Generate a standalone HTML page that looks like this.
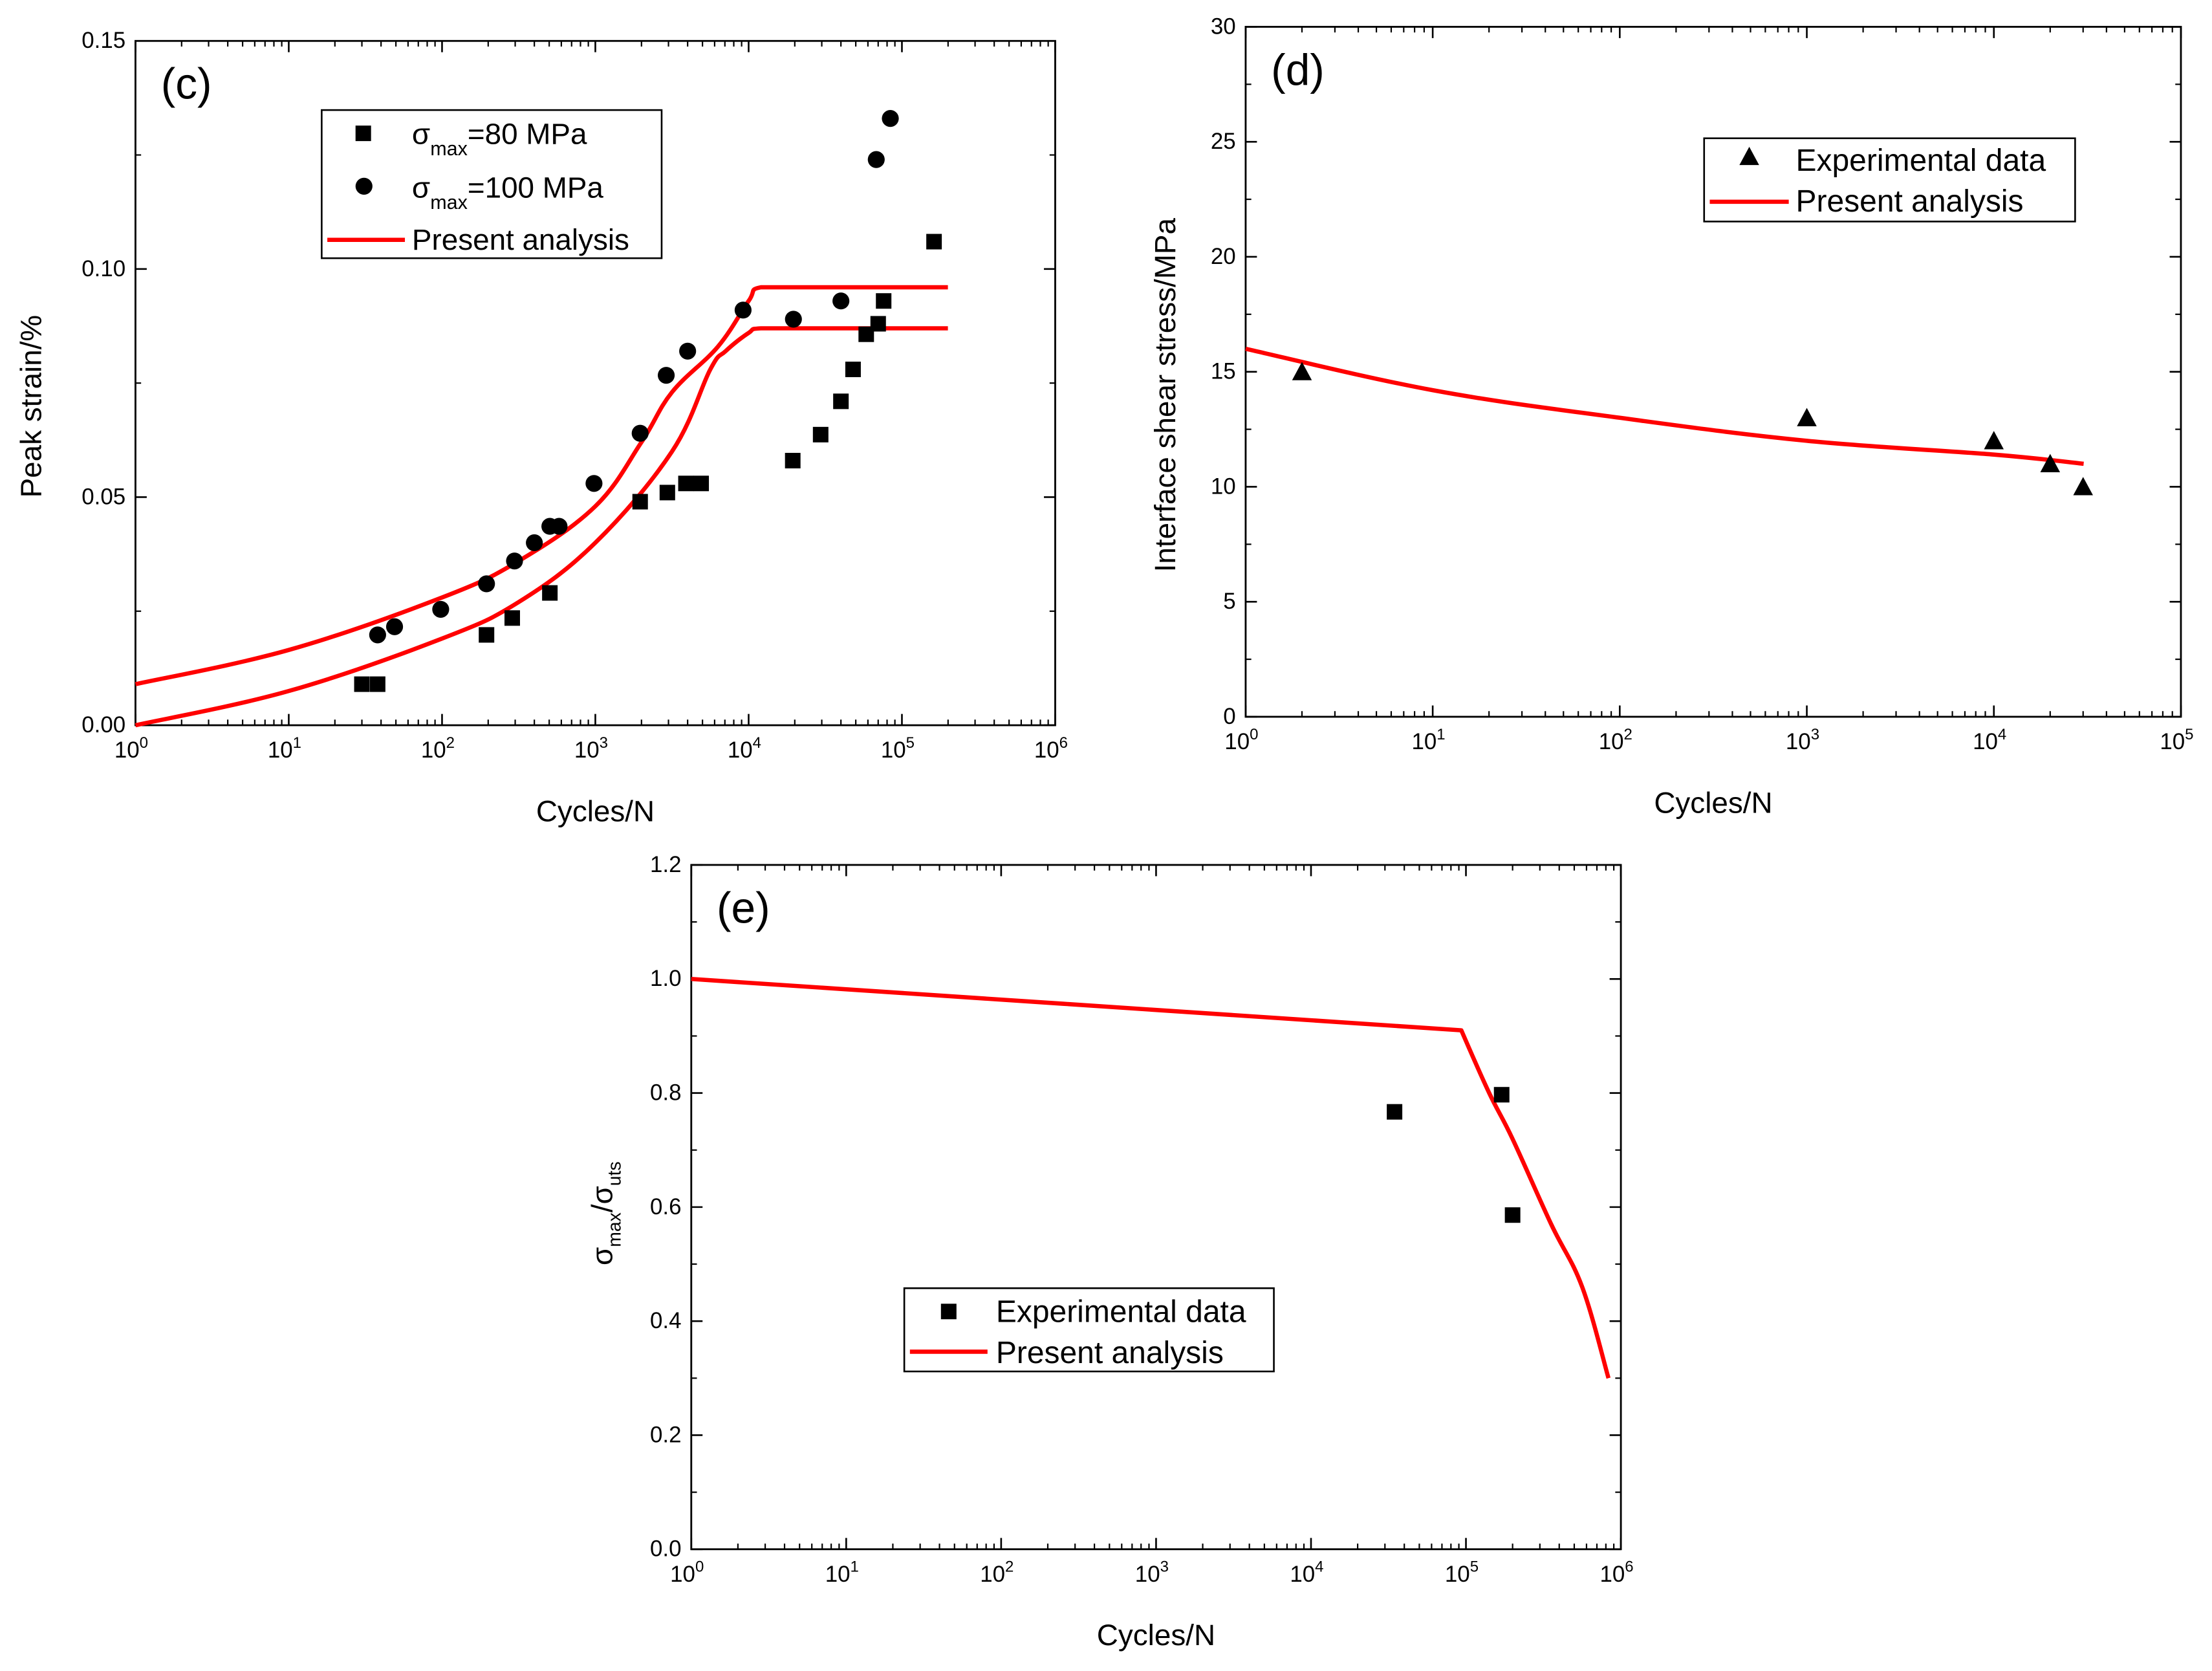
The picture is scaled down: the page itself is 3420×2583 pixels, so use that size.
<!DOCTYPE html>
<html><head><meta charset="utf-8"><style>
html,body{margin:0;padding:0;background:#fff}
svg{display:block;font-family:"Liberation Sans",sans-serif}
</style></head><body>
<svg id="fig" width="3420" height="2583" viewBox="0 0 1568 1184.3" xmlns="http://www.w3.org/2000/svg"></svg>
<script>
// ---- Panel c data ----
const cSqX=[30,38,195,287,505,1960,2950,3900,4900,19400,29500,40000,48000,58500,70000,76000,162000];
const cSqY=[0.009,0.009,0.0198,0.0235,0.029,0.049,0.051,0.053,0.053,0.058,0.0637,0.071,0.078,0.0857,0.088,0.093,0.106];
const cCiX=[38,49,98,195,297,400,505,580,980,1960,2900,4000,9200,19600,40000,68000,84000];
const cCiY=[0.0198,0.0216,0.0254,0.031,0.036,0.040,0.0436,0.0436,0.053,0.064,0.0767,0.082,0.091,0.089,0.093,0.124,0.133];
const cUpLogX=[0,1,2,2.5,3,3.3,3.5,3.8,4.0,4.08,5.3];
const cUpY=[0.009,0.0165,0.028,0.036,0.048,0.062,0.073,0.083,0.093,0.096,0.096];
const cLoLogX=[0,1,2,2.5,3,3.5,3.75,3.85,4.0,4.08,5.3];
const cLoY=[0.0,0.0075,0.019,0.027,0.040,0.060,0.078,0.082,0.086,0.087,0.087];
const cYTicks=["0.00","0.05","0.10","0.15"];
// ---- Panel d data ----
const dTriX=[2,1000,10000,20000,30000];
const dTriY=[15,13,12,11,10];
const dLineLogX=[0,1,2,3,4,4.48];
const dLineY=[16,14.2,13,12,11.4,11.0];
const dYTicks=["0","5","10","15","20","25","30"];
// ---- Panel e data ----
const eSqX=[34600,170000,200000];
const eSqY=[0.767,0.797,0.586];
const eLineLogX=[0,4.97,5.15,5.3,5.55,5.75,5.92];
const eLineY=[1.0,0.91,0.80,0.72,0.57,0.46,0.30];
const eYTicks=["0.0","0.2","0.4","0.6","0.8","1.0","1.2"];

const NS="http://www.w3.org/2000/svg";
const svg=document.getElementById('fig');
function el(tag,attrs,parent){const e=document.createElementNS(NS,tag);for(const k in attrs)e.setAttribute(k,attrs[k]);(parent||svg).appendChild(e);return e;}

function panel(P){
  const g=el('g',{});
  
  
  const sx=l=>P.x0+(l-P.lmin)/(P.lmax-P.lmin)*(P.x1-P.x0);
  const sy=v=>P.y1-(v-P.ymin)/(P.ymax-P.ymin)*(P.y1-P.y0);
  P.sx=sx;P.sy=sy;
  const fr=el('rect',{x:P.x0,y:P.y0,width:P.x1-P.x0,height:P.y1-P.y0,fill:'none',stroke:'#000','stroke-width':1.3},g);
  
  
  for(let d=P.lmin;d<=P.lmax;d++){
    const x=sx(d);
    el('line',{x1:x,y1:P.y1,x2:x,y2:P.y1-8,stroke:'#000','stroke-width':1.2},g);
    el('line',{x1:x,y1:P.y0,x2:x,y2:P.y0+8,stroke:'#000','stroke-width':1.2},g);
    const t=el('text',{x:x-3,y:P.y1+23,'font-size':16,'text-anchor':'middle'},g);
    
    
    t.textContent='10';
    const s=el('tspan',{dy:-7,'font-size':11},t);s.textContent=String(d);
    if(d<P.lmax){for(let m=2;m<=9;m++){const xm=sx(d+Math.log10(m));
      el('line',{x1:xm,y1:P.y1,x2:xm,y2:P.y1-4,stroke:'#000','stroke-width':1},g);
      el('line',{x1:xm,y1:P.y0,x2:xm,y2:P.y0+4,stroke:'#000','stroke-width':1},g);}}
  }
  const n=P.yt.length;
  for(let i=0;i<n;i++){
    const v=P.ymin+(P.ymax-P.ymin)*i/(n-1), y=sy(v);
    el('line',{x1:P.x0,y1:y,x2:P.x0+8,y2:y,stroke:'#000','stroke-width':1.2},g);
    el('line',{x1:P.x1,y1:y,x2:P.x1-8,y2:y,stroke:'#000','stroke-width':1.2},g);
    if(i<n-1){const ym=sy(v+(P.ymax-P.ymin)/(n-1)/2);
      el('line',{x1:P.x0,y1:ym,x2:P.x0+4,y2:ym,stroke:'#000','stroke-width':1},g);
      el('line',{x1:P.x1,y1:ym,x2:P.x1-4,y2:ym,stroke:'#000','stroke-width':1},g);}
    const t=el('text',{x:P.x0-7,y:y+5,'font-size':16,'text-anchor':'end'},g);
    
    
    t.textContent=P.yt[i];
  }
  const xt=el('text',{x:(P.x0+P.x1)/2,y:P.y1+68,'font-size':21,'text-anchor':'middle'},g);
  
  
  xt.textContent='Cycles/N';
  const pl=el('text',{x:P.x0+18,y:P.y0+41,'font-size':31},g);
  
  
  pl.textContent=P.label;
  return g;
}
function clamp(v,a,b){const lo=Math.min(a,b),hi=Math.max(a,b);return Math.max(lo,Math.min(hi,v));}
function line(g,P,lx,ys,name,sharpIdx){
  const pts=lx.map((l,i)=>[P.sx(l),P.sy(ys[i])]);
  let d='M'+pts[0][0]+','+pts[0][1];
  for(let i=0;i<pts.length-1;i++){
    const p0=pts[Math.max(i-1,0)],p1=pts[i],p2=pts[i+1],p3=pts[Math.min(i+2,pts.length-1)];
    const k=0.18;
    let c1=[p1[0]+(p2[0]-p0[0])*k,p1[1]+(p2[1]-p0[1])*k];
    let c2=[p2[0]-(p3[0]-p1[0])*k,p2[1]-(p3[1]-p1[1])*k];
    c1=[clamp(c1[0],p1[0],p2[0]),clamp(c1[1],p1[1],p2[1])];
    c2=[clamp(c2[0],p1[0],p2[0]),clamp(c2[1],p1[1],p2[1])];
    if(sharpIdx===i)c1=p1;
    if(sharpIdx===i+1)c2=p2;
    d+=` C${c1[0]},${c1[1]} ${c2[0]},${c2[1]} ${p2[0]},${p2[1]}`;
  }
  const p=el('path',{d:d,fill:'none',stroke:'#f00','stroke-width':3,'stroke-linejoin':'round'},g);
  
  
}
function marks(g,P,xs,ys,shape,name){
  xs.forEach((xv,i)=>{
    const x=P.sx(Math.log10(xv)),y=P.sy(ys[i]);let m;
    if(shape==='sq')m=el('rect',{x:x-5.5,y:y-5.5,width:11,height:11,fill:'#000'},g);
    else if(shape==='ci')m=el('circle',{cx:x,cy:y,r:6,fill:'#000'},g);
    else m=el('polygon',{points:`${x},${y-7} ${x-7},${y+6} ${x+7},${y+6}`,fill:'#000'},g);
    
    
  });
}
function legendBox(g,x,y,w,h){const r=el('rect',{x:x,y:y,width:w,height:h,fill:'#fff',stroke:'#000','stroke-width':1.2},g);
  }

const Pc={name:'panel-c',x0:96,x1:748,y0:29,y1:514,lmin:0,lmax:6,ymin:0,ymax:0.15,yt:cYTicks,label:'(c)'};
const gc=panel(Pc);
line(gc,Pc,cUpLogX,cUpY,'analysis-line-100mpa');
line(gc,Pc,cLoLogX,cLoY,'analysis-line-80mpa');
marks(gc,Pc,cSqX,cSqY,'sq','point-80mpa');
marks(gc,Pc,cCiX,cCiY,'ci','point-100mpa');
{const yt=el('text',{transform:'translate(29,288) rotate(-90)','font-size':21,'text-anchor':'middle'},gc);
 yt.textContent='Peak strain/%';}
legendBox(gc,228,78,241,105);
el('rect',{x:252,y:89,width:11,height:11,fill:'#000'},gc);
el('circle',{cx:258,cy:132,r:6,fill:'#000'},gc);
el('line',{x1:232,y1:170,x2:287,y2:170,stroke:'#f00','stroke-width':3},gc);
{let t=el('text',{x:292,y:102,'font-size':21},gc);
 t.innerHTML='σ<tspan dy="8" font-size="14">max</tspan><tspan dy="-8">=80 MPa</tspan>';
 t=el('text',{x:292,y:140,'font-size':21},gc);
 t.innerHTML='σ<tspan dy="8" font-size="14">max</tspan><tspan dy="-8">=100 MPa</tspan>';
 t=el('text',{x:292,y:177,'font-size':21},gc);
 t.textContent='Present analysis';}

const Pd={name:'panel-d',x0:883,x1:1546,y0:19,y1:508,lmin:0,lmax:5,ymin:0,ymax:30,yt:dYTicks,label:'(d)'};
const gd=panel(Pd);
line(gd,Pd,dLineLogX,dLineY,'analysis-line');
marks(gd,Pd,dTriX,dTriY,'tri','experimental-point');
{const yt=el('text',{transform:'translate(833,280) rotate(-90)','font-size':21,'text-anchor':'middle'},gd);
 yt.textContent='Interface shear stress/MPa';}
legendBox(gd,1208,98,263,59);
el('polygon',{points:'1240,104 1233,117 1247,117',fill:'#000'},gd);
el('line',{x1:1212,y1:143,x2:1268,y2:143,stroke:'#f00','stroke-width':3},gd);
{let t=el('text',{x:1273,y:121,'font-size':22},gd);t.textContent='Experimental data';
 t=el('text',{x:1273,y:150,'font-size':22},gd);t.textContent='Present analysis';}

const Pe={name:'panel-e',x0:490,x1:1149,y0:613,y1:1098,lmin:0,lmax:6,ymin:0,ymax:1.2,yt:eYTicks,label:'(e)'};
const ge=panel(Pe);
line(ge,Pe,eLineLogX,eLineY,'analysis-line',1);
marks(ge,Pe,eSqX,eSqY,'sq','experimental-point');
{const yt=el('text',{transform:'translate(434,860) rotate(-90)','font-size':21,'text-anchor':'middle'},ge);
 
 yt.innerHTML='σ<tspan dy="6" font-size="13">max</tspan><tspan dy="-6">/σ</tspan><tspan dy="6" font-size="13">uts</tspan>';}
legendBox(ge,641,913,262,59);
el('rect',{x:667,y:924,width:11,height:11,fill:'#000'},ge);
el('line',{x1:645,y1:958,x2:700,y2:958,stroke:'#f00','stroke-width':3},ge);
{let t=el('text',{x:706,y:937,'font-size':22},ge);t.textContent='Experimental data';
 t=el('text',{x:706,y:966,'font-size':22},ge);t.textContent='Present analysis';}
</script>
</body></html>
